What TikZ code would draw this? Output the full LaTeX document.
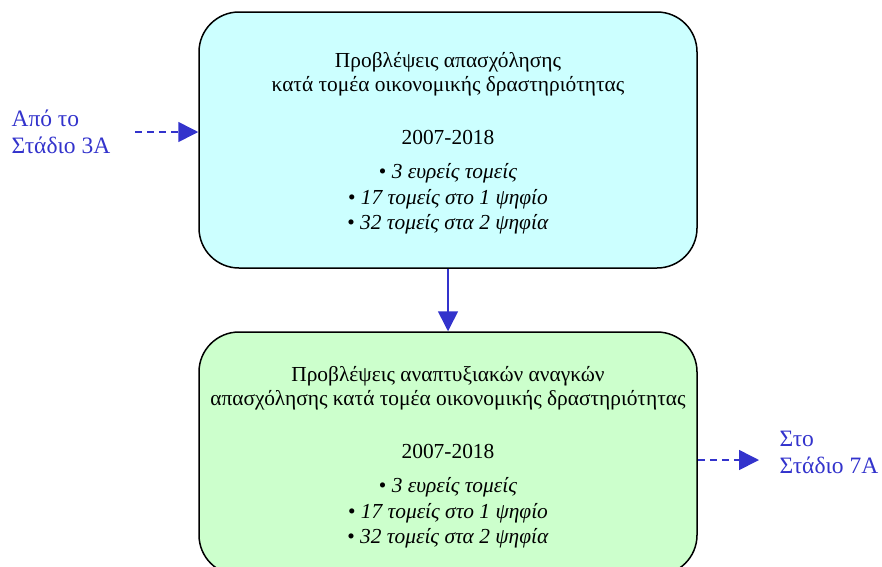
\documentclass[tikz,border=0pt]{standalone}
\usepackage{fontspec}
\setmainfont{Liberation Serif}
\usetikzlibrary{arrows.meta}
\definecolor{stageblue}{RGB}{51,51,204}
\definecolor{boxcyan}{RGB}{204,255,255}
\definecolor{boxgreen}{RGB}{204,255,204}
\begin{document}
\begin{tikzpicture}[x=1pt,y=-1pt,
  stagebox/.style={draw=black, line width=1.5pt, rounded corners=40pt, minimum width=498pt, align=center, inner sep=0pt, font=\fontsize{21.4}{25}\selectfont},
  stagelink/.style={draw=stageblue, line width=1.6pt, -{Triangle[length=20pt,width=20pt]}},
  stagetext/.style={text=stageblue, align=left, anchor=west, font=\fontsize{23.5}{27}\selectfont}]
\useasboundingbox (0,0) rectangle (882,566);

\node[stagebox, fill=boxcyan, minimum height=256pt] (forecast) at (448,140)
  {\rule{0pt}{22pt}Προβλέψεις απασχόλησης\\[-1pt]
   κατά τομέα οικονομικής δραστηριότητας\\[28pt]
   2007-2018\\[9pt]
   • \textit{3 ευρείς τομείς}\\[1pt]
   • \textit{17 τομείς στο 1 ψηφίο}\\
   • \textit{32 τομείς στα 2 ψηφία}};
\node[stagebox, fill=boxgreen, minimum height=243pt] (needs) at (448,453.5)
  {\rule{0pt}{22pt}Προβλέψεις αναπτυξιακών αναγκών\\[-1pt]
   απασχόλησης κατά τομέα οικονομικής δραστηριότητας\\[28pt]
   2007-2018\\[9pt]
   • \textit{3 ευρείς τομείς}\\[1pt]
   • \textit{17 τομείς στο 1 ψηφίο}\\
   • \textit{32 τομείς στα 2 ψηφία}};

\node[stagetext] (fromstage) at (8,132) {Από το\\Στάδιο 3Α};
\node[stagetext] (tostage) at (776,452) {Στο\\Στάδιο 7Α};
\coordinate (fromstart) at (135,132);
\coordinate (toend) at (759,460);

\draw[stagelink] (forecast.south) -- (needs.north);
\draw[stagelink, dash pattern=on 7pt off 5pt] (fromstart) -- (forecast.west |- fromstart);
\draw[stagelink, dash pattern=on 7pt off 5pt] (needs.east |- toend) -- (toend);
\end{tikzpicture}
\end{document}
